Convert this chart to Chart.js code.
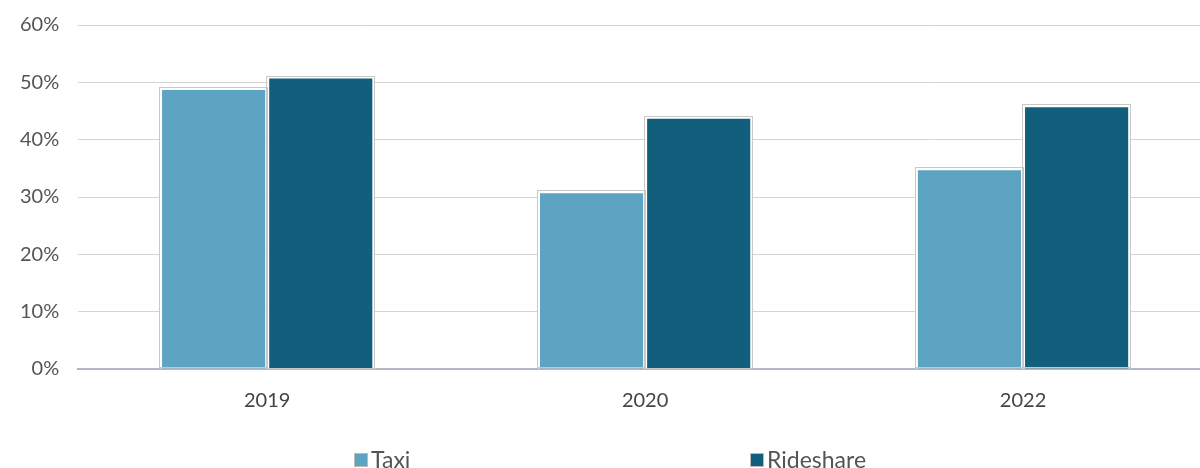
<!DOCTYPE html>
<html>
<head>
<meta charset="utf-8">
<script src="https://cdn.jsdelivr.net/npm/chart.js@4"></script>
<style>
  html, body { margin: 0; padding: 0; background: #fff; overflow: hidden; }
  #wrap { width: 1212px; height: 468px; position: relative; }
  #legend { position: absolute; top: 447px; left: 0; width: 1212px; height: 26px;
            font-family: Lato, sans-serif; font-size: 23px; color: #555; }
  #legend span.item { position: absolute; top: 0; white-space: nowrap; line-height: 24px; }
  #legend span.box { display: inline-block; width: 14px; height: 14px; border: 1px solid #bbb;
                     box-sizing: border-box; margin-right: 3px; vertical-align: 1px; }
</style>
</head>
<body>
<div id="wrap"><canvas id="chart"></canvas><div id="legend"></div></div>
<script>
const years = ['2019', '2020', '2022'];
const taxi = [49, 31, 35];
const rideshare = [51, 44, 46];
const legendLeft = [354, 750];

const outlinePlugin = {
    id: 'barOutline',
    afterDatasetsDraw(chart) {
        const ctx = chart.ctx;
        ctx.save();
        ctx.strokeStyle = '#c8c8c8';
        ctx.lineWidth = 1;
        chart.data.datasets.forEach((ds, i) => {
            chart.getDatasetMeta(i).data.forEach((bar) => {
                const left = bar.x - bar.width / 2;
                ctx.strokeRect(Math.round(left) - 0.5, Math.round(bar.y) - 0.5,
                    Math.round(bar.width) + 1, Math.round(bar.base - bar.y));
            });
        });
        ctx.restore();
    }
};

const ctx = document.getElementById('chart').getContext('2d');
const chart = new Chart(ctx, {
    type: 'bar',
    data: {
        labels: years,
        datasets: [
            {
                label: 'Taxi',
                data: taxi,
                backgroundColor: '#5ca4c1',
                borderColor: '#ffffff',
                borderWidth: 2,
            },
            {
                label: 'Rideshare',
                data: rideshare,
                backgroundColor: '#125f7d',
                borderColor: '#ffffff',
                borderWidth: 2,
            },
        ],
    },
    options: {
        responsive: true,
        maintainAspectRatio: false,
        animation: false,
        layout: { padding: { top: 25, left: 1, right: 0, bottom: 35 } },
        datasets: {
            bar: { categoryPercentage: 0.567, barPercentage: 1.0 }
        },
        scales: {
            y: {
                min: 0,
                max: 60,
                afterFit: (scale) => { scale.paddingTop = 0; },
                ticks: {
                    stepSize: 10,
                    autoSkip: false,
                    callback: (v) => v + '%',
                    color: '#555',
                    font: { family: 'Lato', size: 20 },
                    padding: 19,
                },
                grid: { color: '#d4d4d4', lineWidth: 1, drawTicks: false },
                border: { display: false },
            },
            x: {
                ticks: {
                    color: '#444',
                    font: { family: 'Lato', size: 20 },
                    padding: 20,
                },
                grid: { display: false, drawTicks: false },
                border: { color: '#b4b8c6', width: 2 },
            },
        },
        plugins: {
            legend: { display: false },
            tooltip: { enabled: false },
        },
    },
    plugins: [outlinePlugin],
});

// legend built from the chart's datasets
const legendEl = document.getElementById('legend');
chart.data.datasets.forEach((ds, i) => {
    const item = document.createElement('span');
    item.className = 'item';
    item.style.left = legendLeft[i] + 'px';
    const box = document.createElement('span');
    box.className = 'box';
    box.style.background = ds.backgroundColor;
    item.appendChild(box);
    item.appendChild(document.createTextNode(ds.label));
    legendEl.appendChild(item);
});
</script>
</body>
</html>
